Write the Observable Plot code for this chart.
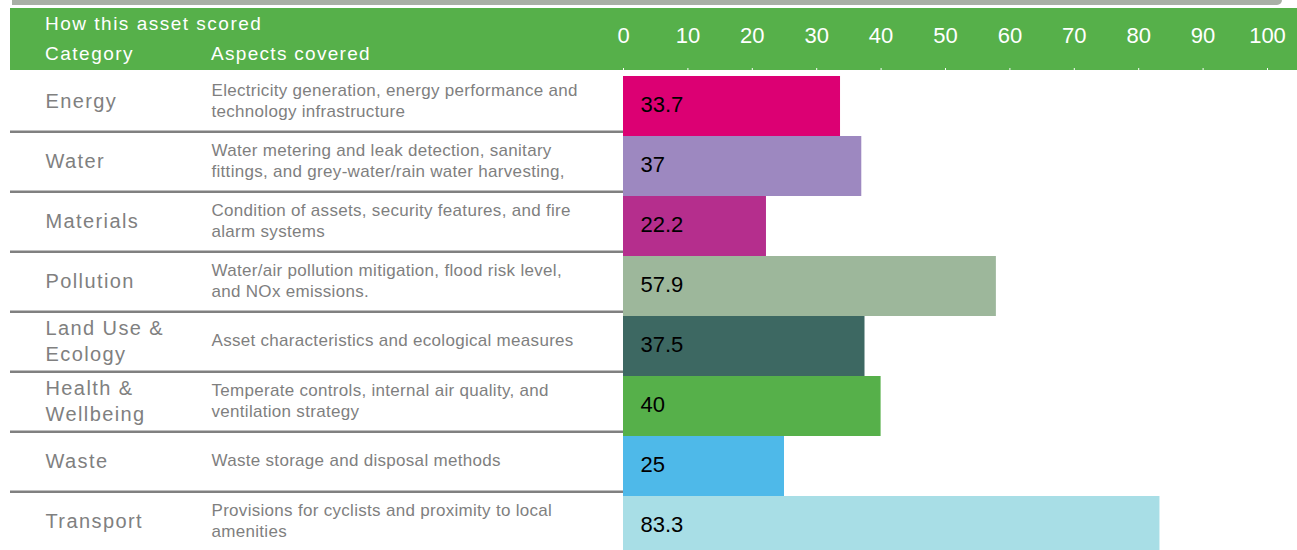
<!DOCTYPE html>
<html><head><meta charset="utf-8">
<script src="https://cdn.jsdelivr.net/npm/d3@7"></script>
<script src="https://cdn.jsdelivr.net/npm/@observablehq/plot@0.6"></script>
<style>
html,body{margin:0;padding:0;background:#fff;}
#wrap{position:relative;width:1297px;height:550px;overflow:hidden;}
#topline{position:absolute;left:12px;top:0;width:1270px;height:5px;background:#a9b0a6;border-bottom-right-radius:8px;}
#header{position:absolute;left:10px;top:8px;width:1287px;height:62px;background:#56b04a;}
.h{position:absolute;color:#fff;font-family:"Liberation Sans",Arial,sans-serif;font-size:19px;letter-spacing:1.5px;line-height:1;}
#chart{position:absolute;left:0;top:0;}
</style>
</head><body>
<div id="wrap">
  <div id="topline"></div>
  <div id="header"></div>
  <div class="h" style="left:45px;top:14px;">How this asset scored</div>
  <div class="h" style="left:45px;top:44px;">Category</div>
  <div class="h" style="left:211px;top:44px;letter-spacing:1.3px;">Aspects covered</div>
  <div id="chart"></div>
</div>
<script>
const categories = ["Energy","Water","Materials","Pollution","Land Use &\nEcology","Health &\nWellbeing","Waste","Transport"];
const aspects = [
  "Electricity generation, energy performance and\ntechnology infrastructure",
  "Water metering and leak detection, sanitary\nfittings, and grey-water/rain water harvesting,",
  "Condition of assets, security features, and fire\nalarm systems",
  "Water/air pollution mitigation, flood risk level,\nand NOx emissions.",
  "Asset characteristics and ecological measures",
  "Temperate controls, internal air quality, and\nventilation strategy",
  "Waste storage and disposal methods",
  "Provisions for cyclists and proximity to local\namenities"
];
const scores = [33.7, 37, 22.2, 57.9, 37.5, 40, 25, 83.3];
const scoreLabels = ["33.7","37","22.2","57.9","37.5","40","25","83.3"];
const colors = ["#dc0073","#9d88c0","#b52e8d","#9db79b","#3d6862","#56b04a","#4eb9e9","#a8dee6"];
const ticks = [0,10,20,30,40,50,60,70,80,90,100];

const rows = categories.map((c,i)=>({category:c, aspect:aspects[i], score:scores[i], label:scoreLabels[i]}));

const step = 60.3;
const top0 = 75;
const plot = Plot.plot({
  width: 1297, height: 550,
  marginTop: 70, marginBottom: 0,
  marginLeft: 10, marginRight: 1297 - 623,
  style: {background: "transparent", overflow: "visible"},
  x: {domain: [0, 100], range: [623, 1267]},
  y: {domain: categories, range: [top0, top0 + categories.length * step], padding: 0, axis: null},
  color: {domain: categories, range: colors},
  marks: [
    Plot.ruleY(categories.slice(0, -1), {y: d => d, dy: step/2 - 5, stroke: "#808080", strokeWidth: 2.5}),
    Plot.barX(rows, {x: "score", y: "category", fill: "category"}),
    Plot.text(rows, {y: "category", text: "category", frameAnchor: "left", dx: 35, dy: -7, textAnchor: "start",
      fill: "#808080", fontSize: 20, lineHeight: 1.3, fontFamily: "Liberation Sans, Arial, sans-serif"}),
    Plot.text(rows, {y: "category", text: "aspect", frameAnchor: "left", dx: 201, dy: -7, textAnchor: "start",
      fill: "#7f7f7f", fontSize: 17, lineHeight: 1.25, fontFamily: "Liberation Sans, Arial, sans-serif"}),
    Plot.text(rows, {x: 0, y: "category", text: "label", dx: 17, dy: -2, textAnchor: "start",
      fill: "#000", fontSize: 22, fontFamily: "Liberation Sans Narrow, Liberation Sans, Arial, sans-serif"}),
    Plot.axisX(ticks, {anchor: "top", tickSize: 3, tickPadding: 25, color: "white", stroke: "white",
      fontSize: 22, fontFamily: "Liberation Sans Narrow, Liberation Sans, Arial, sans-serif", label: null})
  ]
});
plot.setAttribute("style", "background:transparent;overflow:visible;");
document.getElementById("chart").appendChild(plot);
// letter spacing for the table text
const catSet = new Set(categories), aspSet = new Set(aspects);
plot.querySelectorAll("text").forEach(t => {
  const s = t.textContent;
  const lines = Array.from(t.querySelectorAll("tspan")).map(n => n.textContent).join("\n") || s;
  if (catSet.has(lines) || catSet.has(s)) t.setAttribute("letter-spacing", "1.4");
  else if (aspSet.has(lines) || aspSet.has(s)) t.setAttribute("letter-spacing", "0.3");
});
</script>
</body></html>
